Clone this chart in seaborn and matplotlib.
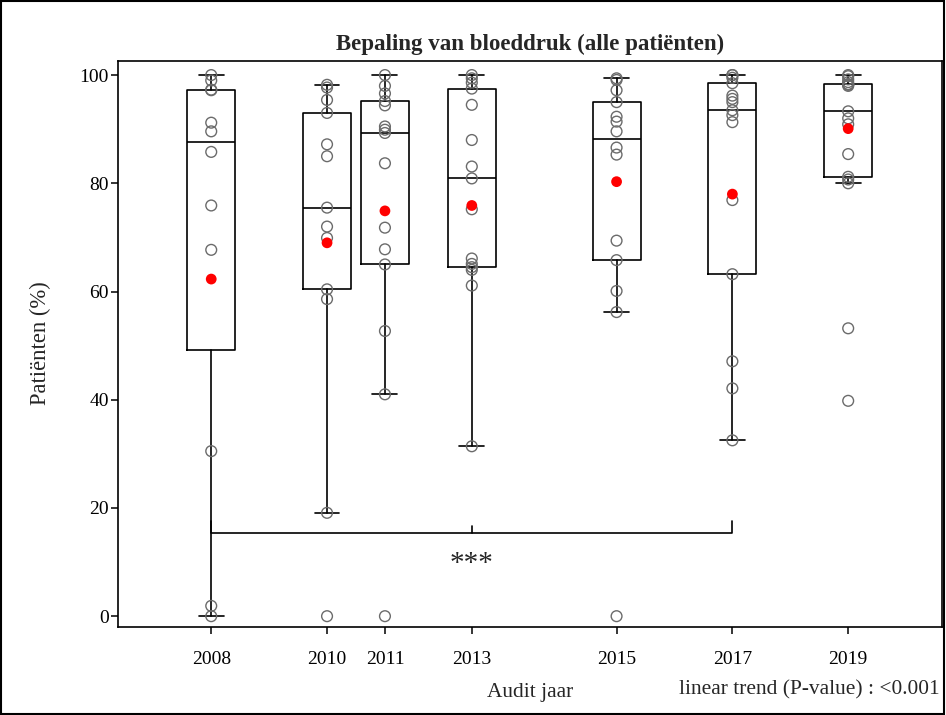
import numpy as np
import pandas as pd
import matplotlib
matplotlib.use("Agg")
import matplotlib.pyplot as plt
import seaborn as sns
from matplotlib.patches import Rectangle

# Audit years (labels) and where each audit sits on the time axis
years = ["2008", "2010", "2011", "2013", "2015", "2017", "2019"]
positions = [2008, 2010, 2011, 2012.5, 2015, 2017, 2019]

# Percentage of patients with blood pressure recorded, one value per practice
pct_2008 = [100, 99.0, 97.3, 97.2, 91.2, 89.6, 85.8, 75.9, 67.7, 30.5, 1.9, 0]
pct_2010 = [98.2, 97.7, 95.4, 93.0, 87.2, 85.0, 75.5, 72.0, 69.9, 60.4, 58.6, 19.1, 0]
pct_2011 = [100, 98.0, 96.6, 95.2, 94.4, 90.5, 89.9, 89.3, 83.7, 71.8, 67.8, 65.0,
            52.7, 41.0, 0]
pct_2013 = [100, 99.4, 98.6, 97.5, 94.5, 88.0, 83.1, 80.9, 75.2, 66.1, 65.1, 64.5,
            64.0, 61.1, 31.4]
pct_2015 = [99.4, 99.1, 97.2, 95.0, 92.3, 91.4, 89.6, 86.6, 85.3, 69.4, 65.8, 60.1,
            56.2, 0]
pct_2017 = [100, 100, 99.5, 98.5, 96.2, 95.6, 95.0, 93.5, 92.6, 91.3, 76.9, 63.2,
            47.1, 42.1, 32.5]
pct_2019 = [100, 99.8, 99.2, 98.7, 98.3, 98.3, 98.2, 98.0, 93.3, 92.0, 90.9, 85.4,
            81.2, 80.7, 80.0, 53.2, 39.8]

# Overall (pooled) percentage per audit, shown as the red dot
means = [62.3, 69.0, 74.9, 75.9, 80.3, 78.0, 90.1]

y_ticks = [0, 20, 40, 60, 80, 100]

groups = [pct_2008, pct_2010, pct_2011, pct_2013, pct_2015, pct_2017, pct_2019]

rows = []
for pos, yr, vals in zip(positions, years, groups):
    for v in vals:
        rows.append({"pos": pos, "year": yr, "pct": v})
df = pd.DataFrame(rows)
df_mean = pd.DataFrame({"pos": positions, "year": years, "pct": means})


def box_stats(vals):
    a = np.asarray(vals, dtype=float)
    q1, med, q3 = np.percentile(a, [25, 50, 75], method="averaged_inverted_cdf")
    iqr = q3 - q1
    lo = a[a >= q1 - 1.5 * iqr].min()
    hi = a[a <= q3 + 1.5 * iqr].max()
    return dict(med=med, q1=q1, q3=q3, whislo=lo, whishi=hi, fliers=[])


sns.set_style("ticks")
plt.rcParams["font.family"] = ["Liberation Serif", "DejaVu Serif"]
plt.rcParams["axes.linewidth"] = 1.2

W, H = 946, 715
fig = plt.figure(figsize=(W / 100, H / 100), dpi=100)
ax = fig.add_axes([118 / W, 1 - 627 / H, (942 - 118) / W, (627 - 61) / H])

line = dict(color="black", linewidth=1.2)
ax.bxp([box_stats(g) for g in groups], positions=positions, widths=0.83,
       capwidths=0.43, showfliers=False, manage_ticks=False,
       boxprops=line, medianprops=line, whiskerprops=line, capprops=line)

sns.scatterplot(data=df, x="pos", y="pct", ax=ax, marker="o", s=60,
                facecolor="none", edgecolor="#6b6b6b", linewidth=1.0,
                zorder=3, legend=False)
sns.scatterplot(data=df_mean, x="pos", y="pct", ax=ax, marker="o", s=60,
                color="#ff0000", edgecolor="none", zorder=4, legend=False)

# Significance bracket between the first and the 2017 audit
ax.plot([2008, 2008, 2017, 2017], [17.6, 15.3, 15.3, 17.6], color="black",
        linewidth=1.2, zorder=2)
ax.plot([2012.5, 2012.5], [15.3, 16.7], color="black", linewidth=1.2, zorder=2)
ax.text(2012.5, 9.6, "***", ha="center", va="center", fontsize=21)

ax.set_xlim(2006.39, 2020.62)
ax.set_ylim(-2.0, 102.6)
ax.set_xticks(positions)
ax.set_xticklabels(years)
ax.set_yticks(y_ticks)
ax.set_yticklabels([str(t) for t in y_ticks])
ax.tick_params(axis="both", labelsize=14, length=5, width=1.1,
               direction="out", colors="black")
ax.tick_params(axis="x", pad=12)
ax.tick_params(axis="y", pad=1.5)
ax.set_xlabel("")
ax.set_ylabel("")
for sp in ax.spines.values():
    sp.set_visible(True)
    sp.set_color("black")

fig.text(530 / W, 1 - 44 / H, "Bepaling van bloeddruk (alle patiënten)",
         ha="center", va="center", fontsize=16.5, fontweight="bold")
fig.text(40 / W, 1 - 343 / H, "Patiënten (%)", ha="center", va="center",
         rotation=90, fontsize=16.3)
fig.text(530 / W, 1 - 692 / H, "Audit jaar", ha="center", va="center",
         fontsize=15.4)
fig.text(940 / W, 1 - 690 / H, "linear trend (P-value) : <0.001", ha="right",
         va="center", fontsize=15.4)

fig.patches.append(Rectangle((0.001, 0.001), 0.997, 0.997,
                             transform=fig.transFigure, fill=False,
                             edgecolor="black", linewidth=1.5))

fig.savefig("out.png", dpi=100)
